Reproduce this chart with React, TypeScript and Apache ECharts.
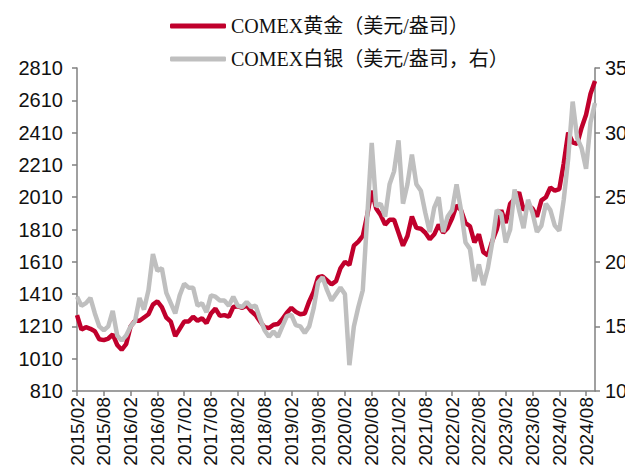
import React, { useEffect, useRef } from "react";
import * as echarts from "echarts";

// Monthly categories 2015/02 .. 2024/10
const startYear = 2015;
const months: string[] = [];
for (let i = 0; i < 117; i++) {
  const m = 1 + i; // offset from Jan 2015
  const y = startYear + Math.floor(m / 12);
  const mm = (m % 12) + 1;
  months.push(`${y}/${mm < 10 ? "0" + mm : mm}`);
}

// COMEX gold, USD/oz (left axis)
const gold: number[] = [
  // 2015 Feb-Dec
  1280, 1190, 1205, 1195, 1180, 1130, 1125, 1135, 1160, 1095, 1065,
  // 2016
  1100, 1210, 1245, 1245, 1265, 1285, 1345, 1365, 1330, 1265, 1240, 1150,
  // 2017
  1195, 1240, 1240, 1270, 1245, 1260, 1230, 1290, 1320, 1275, 1280, 1270,
  // 2018
  1330, 1335, 1325, 1340, 1305, 1280, 1240, 1205, 1200, 1220, 1225, 1255,
  // 2019
  1295, 1325, 1300, 1285, 1290, 1365, 1425, 1515, 1520, 1495, 1470, 1490,
  // 2020
  1570, 1610, 1590, 1710, 1735, 1770, 1900, 2050, 1940, 1900, 1840, 1870,
  // 2021
  1870, 1790, 1710, 1770, 1890, 1820, 1815, 1790, 1750, 1780, 1840, 1790,
  // 2022
  1820, 1880, 1960, 1930, 1850, 1830, 1730, 1780, 1670, 1650, 1740, 1810,
  // 2023
  1930, 1850, 1970, 2000, 2040, 1930, 1960, 1940, 1890, 1990, 2010, 2070,
  // 2024
  2050, 2060, 2220, 2410, 2350, 2340, 2440, 2520, 2650, 2730,
];

// COMEX silver, USD/oz (right axis)
const silver: number[] = [
  // 2015 Feb-Dec
  17.3, 16.6, 16.8, 17.2, 16.0, 15.0, 14.7, 15.0, 16.2, 14.3, 13.9,
  // 2016
  14.3, 15.0, 15.4, 17.2, 16.3, 17.8, 20.6, 19.3, 19.5, 17.6, 16.8, 16.0,
  // 2017
  17.4, 18.3, 18.0, 18.0, 16.6, 16.8, 16.1, 17.4, 17.3, 17.0, 17.0, 16.6,
  // 2018
  17.3, 16.6, 16.5, 16.9, 16.5, 16.6, 15.6, 14.7, 14.2, 14.6, 14.2, 15.0,
  // 2019
  15.8, 15.9, 15.1, 15.0, 14.5, 15.0, 16.4, 18.4, 18.8, 17.8, 17.0, 17.5,
  // 2020
  18.0, 17.5, 12.0, 15.0, 16.5, 17.8, 23.5, 29.2, 24.3, 24.5, 23.5, 26.0,
  // 2021
  27.0, 29.4, 24.5, 26.0, 28.3, 26.0, 25.5, 23.8, 22.3, 24.2, 25.0, 22.3,
  // 2022
  23.5, 24.0, 26.0, 24.0, 21.5, 21.0, 18.5, 19.8, 18.2, 19.5, 21.5, 24.0,
  // 2023
  23.7, 21.5, 22.5, 25.6, 24.0, 22.6, 24.8, 23.8, 22.3, 22.8, 24.5, 24.0,
  // 2024
  22.8, 22.4, 24.8, 28.0, 32.4, 29.6, 28.8, 27.2, 30.8, 32.3,
];

const goldName = "COMEX黄金（美元/盎司）";
const silverName = "COMEX白银（美元/盎司，右）";

const leftTicks = [810, 1010, 1210, 1410, 1610, 1810, 2010, 2210, 2410, 2610, 2810];

export default function App() {
  const ref = useRef<HTMLDivElement>(null);

  useEffect(() => {
    if (!ref.current) return;
    const chart = echarts.init(ref.current, null, { renderer: "svg" });
    const axisFont = "'Liberation Sans', Arial, sans-serif";
    const axisLine = { show: true, lineStyle: { color: "#808080", width: 1.5 } };
    const showEvery6 = (i: number) => i % 6 === 0;
    chart.setOption({
      animation: false,
      backgroundColor: "#ffffff",
      legend: {
        orient: "vertical",
        left: 165,
        top: 10,
        itemWidth: 56,
        itemHeight: 5,
        itemGap: 11,
        icon: "roundRect",
        textStyle: {
          fontFamily: "'Liberation Serif', 'Noto Sans CJK SC', serif",
          fontSize: 20,
          color: "#111",
          lineHeight: 22,
        },
        data: [goldName, silverName],
      },
      grid: { left: 77, right: 38, top: 68, bottom: 85, containLabel: false },
      xAxis: {
        type: "category",
        data: months,
        boundaryGap: false,
        axisLine,
        axisTick: { show: true, interval: showEvery6, length: 5, lineStyle: { color: "#808080", width: 1.5 } },
        axisLabel: {
          interval: showEvery6,
          rotate: 90,
          margin: 6,
          fontFamily: axisFont,
          fontSize: 19,
          color: "#111",
        },
        splitLine: { show: false },
      },
      yAxis: [
        {
          type: "value",
          min: 810,
          max: 2810,
          position: "left",
          axisLine,
          axisTick: { show: true, length: 5, customValues: leftTicks, lineStyle: { color: "#808080", width: 1.5 } },
          axisLabel: {
            customValues: leftTicks,
            formatter: (v: number) => String(v),
            margin: 14,
            fontFamily: axisFont,
            fontSize: 20,
            color: "#111",
          },
          splitLine: { show: false },
        },
        {
          type: "value",
          min: 10,
          max: 35,
          interval: 5,
          position: "right",
          axisLine,
          axisTick: { show: true, length: 5, lineStyle: { color: "#808080", width: 1.5 } },
          axisLabel: {
            margin: 10,
            fontFamily: axisFont,
            fontSize: 20,
            color: "#111",
          },
          splitLine: { show: false },
        },
      ],
      series: [
        {
          name: goldName,
          type: "line",
          yAxisIndex: 0,
          data: gold,
          showSymbol: false,
          symbol: "none",
          lineStyle: { color: "#C0002C", width: 4.5 },
          itemStyle: { color: "#C0002C" },
          z: 2,
        },
        {
          name: silverName,
          type: "line",
          yAxisIndex: 1,
          data: silver,
          showSymbol: false,
          symbol: "none",
          lineStyle: { color: "#BFBFBF", width: 4.5 },
          itemStyle: { color: "#BFBFBF" },
          z: 3,
        },
      ],
    });
    return () => chart.dispose();
  }, []);

  return <div ref={ref} style={{ width: 633, height: 476, margin: -8 }} />;
}
